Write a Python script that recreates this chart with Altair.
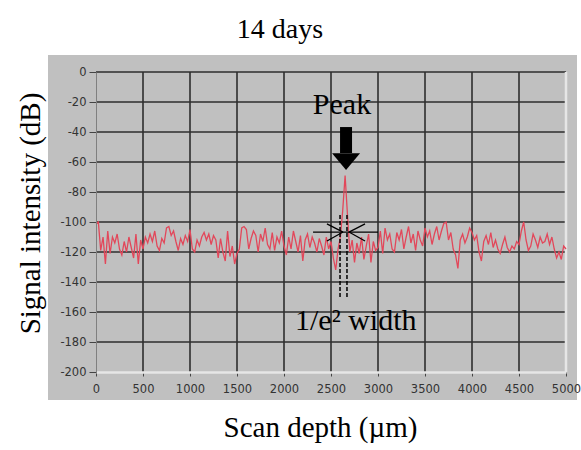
import altair as alt
import pandas as pd

# ---- data -------------------------------------------------------------
depth = list(range(0, 5001, 25))  # scan depth sampling (µm)
signal = [
    -101, -100, -119, -110, -128, -106, -121, -110, -114, -108, -118, -122, -113, -120, -110, -117, -124, -108, -128, -112,
    -118, -110, -114, -108, -113, -106, -116, -119, -111, -114, -104, -103, -109, -106, -113, -119, -111, -115, -109, -113,
    -105, -118, -120, -112, -116, -110, -107, -112, -108, -115, -109, -112, -124, -111, -120, -126, -106, -123, -116, -128,
    -121, -118, -104, -103, -105, -118, -111, -106, -109, -120, -108, -113, -104, -115, -118, -107, -119, -110, -114, -106,
    -116, -122, -110, -118, -106, -113, -120, -109, -126, -112, -108, -117, -110, -114, -120, -111, -116, -122, -110, -118,
    -113, -124, -132, -118, -110, -92, -69, -95, -120, -112, -127, -114, -121, -110, -125, -116, -108, -127, -113, -119,
    -117, -106, -121, -104, -112, -108, -118, -120, -107, -112, -105, -118, -110, -103, -114, -108, -119, -106, -112, -116,
    -104, -110, -106, -115, -108, -103, -112, -106, -101, -100, -112, -107, -118, -122, -131, -112, -108, -114, -110, -104,
    -107, -112, -109, -120, -126, -113, -109, -115, -107, -117, -112, -118, -121, -115, -110, -117, -120, -116, -118, -113,
    -115, -106, -100, -112, -119, -116, -108, -112, -117, -110, -114, -113, -108, -115, -110, -118, -124, -120, -125, -116, -118,
]
x_ticks = list(range(0, 5001, 500))
y_ticks = list(range(-200, 1, 20))
x_grid = list(range(500, 5000, 500))
y_grid = list(range(-180, 1, 20))

# annotation geometry (data units)
seg_x = [2309, 2457, 2457, 2862, 2862]
seg_x2 = [3000, 2628, 2628, 2691, 2691]
seg_y = [-106.7, -101.3, -112.7, -101.3, -112.7]
seg_y2 = [-106.7, -106.7, -106.7, -106.7, -106.7]
dash_x = [2596, 2670]
dash_y, dash_y2 = -95.3, -150.7
arrow_x = 2660
shaft_y, shaft_y2 = -36.7, -54
head_y = -59.7

title_text = "14 days"
x_title = "Scan depth (µm)"
y_title = "Signal intensity (dB)"

SERIF = "Liberation Serif"
PANEL = "#c0c0c0"
GRID = "#2e2e2e"

df = pd.DataFrame({"depth": depth, "signal": signal})
one = pd.DataFrame({"a": [0]})

xscale = alt.Scale(domain=[0, 5000], nice=False, zero=False)
yscale = alt.Scale(domain=[-200, 0], nice=False, zero=False)

common = dict(grid=False, zindex=1, labelOverlap=False, labelFlush=False,
              labelExpr="'' + datum.value", tickColor="#444444",
              labelFont="DejaVu Sans", labelFontSize=11.5, labelColor="#333333",
              titleFont=SERIF, titleFontSize=29, titleFontWeight="normal",
              titleColor="black", titleBaseline="alphabetic", titleAlign="center")

xaxis = alt.Axis(values=x_ticks, title=x_title, domainColor="#e6e6e6", domainWidth=2.5,
                 tickSize=4, labelPadding=7, titleX=224, titleY=64, **common)
yaxis = alt.Axis(values=y_ticks, title=y_title, domainColor="#808080", domainWidth=1,
                 tickSize=7, labelPadding=3, titleX=-57, titleY=141, titleAngle=270, **common)


def X(field):
    return alt.X(field, scale=xscale, axis=xaxis)


def Y(field):
    return alt.Y(field, scale=yscale, axis=yaxis)


panel = alt.Chart(one).mark_rect(color=PANEL).encode(
    x=alt.value(-48), x2=alt.value(481), y=alt.value(-17), y2=alt.value(328)
)

vgrid = alt.Chart(pd.DataFrame({"g": x_grid})).mark_rule(color=GRID, strokeWidth=1.6).encode(
    x=X("g:Q")
)
hgrid = alt.Chart(pd.DataFrame({"g": y_grid})).mark_rule(color=GRID, strokeWidth=1.6).encode(
    y=Y("g:Q")
)
right_edge = alt.Chart(pd.DataFrame({"g": [5000]})).mark_rule(color="#e6e6e6", strokeWidth=2.5).encode(
    x=X("g:Q")
)

line = alt.Chart(df).mark_line(color="#e2475a", strokeWidth=1.3).encode(
    x=X("depth:Q"),
    y=Y("signal:Q"),
)

segs = alt.Chart(pd.DataFrame({"x": seg_x, "x2": seg_x2, "y": seg_y, "y2": seg_y2})).mark_rule(
    color="black", strokeWidth=1.3
).encode(x=X("x:Q"), x2="x2:Q", y=Y("y:Q"), y2="y2:Q")

dashes = alt.Chart(pd.DataFrame({"x": dash_x, "y": [dash_y] * 2, "y2": [dash_y2] * 2})).mark_rule(
    color="black", strokeWidth=1.5, strokeDash=[4, 2]
).encode(x=X("x:Q"), y=Y("y:Q"), y2="y2:Q")

shaft = alt.Chart(pd.DataFrame({"x": [arrow_x], "y": [shaft_y], "y2": [shaft_y2]})).mark_rule(
    color="black", strokeWidth=12, strokeCap="butt"
).encode(x=X("x:Q"), y=Y("y:Q"), y2="y2:Q")

head = alt.Chart(pd.DataFrame({"x": [arrow_x], "y": [head_y]})).mark_point(
    shape="M-1,-0.6L1,-0.6L0,0.6Z", size=784, filled=True, color="black", opacity=1
).encode(x=X("x:Q"), y=Y("y:Q"))

peak_lbl = alt.Chart(pd.DataFrame({"x": [2617], "y": [-28], "t": ["Peak"]})).mark_text(
    font=SERIF, fontSize=30, color="black", align="center", baseline="alphabetic"
).encode(x=X("x:Q"), y=Y("y:Q"), text="t:N")

width_lbl = alt.Chart(pd.DataFrame({"x": [2117], "y": [-172], "t": ["1/e² width"]})).mark_text(
    font=SERIF, fontSize=30, color="black", align="left", baseline="alphabetic"
).encode(x=X("x:Q"), y=Y("y:Q"), text="t:N")

title = alt.Chart(pd.DataFrame({"t": [title_text]})).mark_text(
    font=SERIF, fontSize=28, color="black", align="center", baseline="alphabetic"
).encode(x=alt.value(184), y=alt.value(-34), text="t:N")

chart = alt.layer(
    panel, vgrid, hgrid, right_edge, line, segs, dashes, shaft, head, peak_lbl, width_lbl, title
).properties(
    width=470, height=300,
    autosize=alt.AutoSizeParams(type="none"),
    padding={"left": 96, "top": 72, "right": 15, "bottom": 78},
    background="white",
).configure_view(stroke=None)

chart.save("out.html", embed_options={"renderer": "svg", "actions": False})
